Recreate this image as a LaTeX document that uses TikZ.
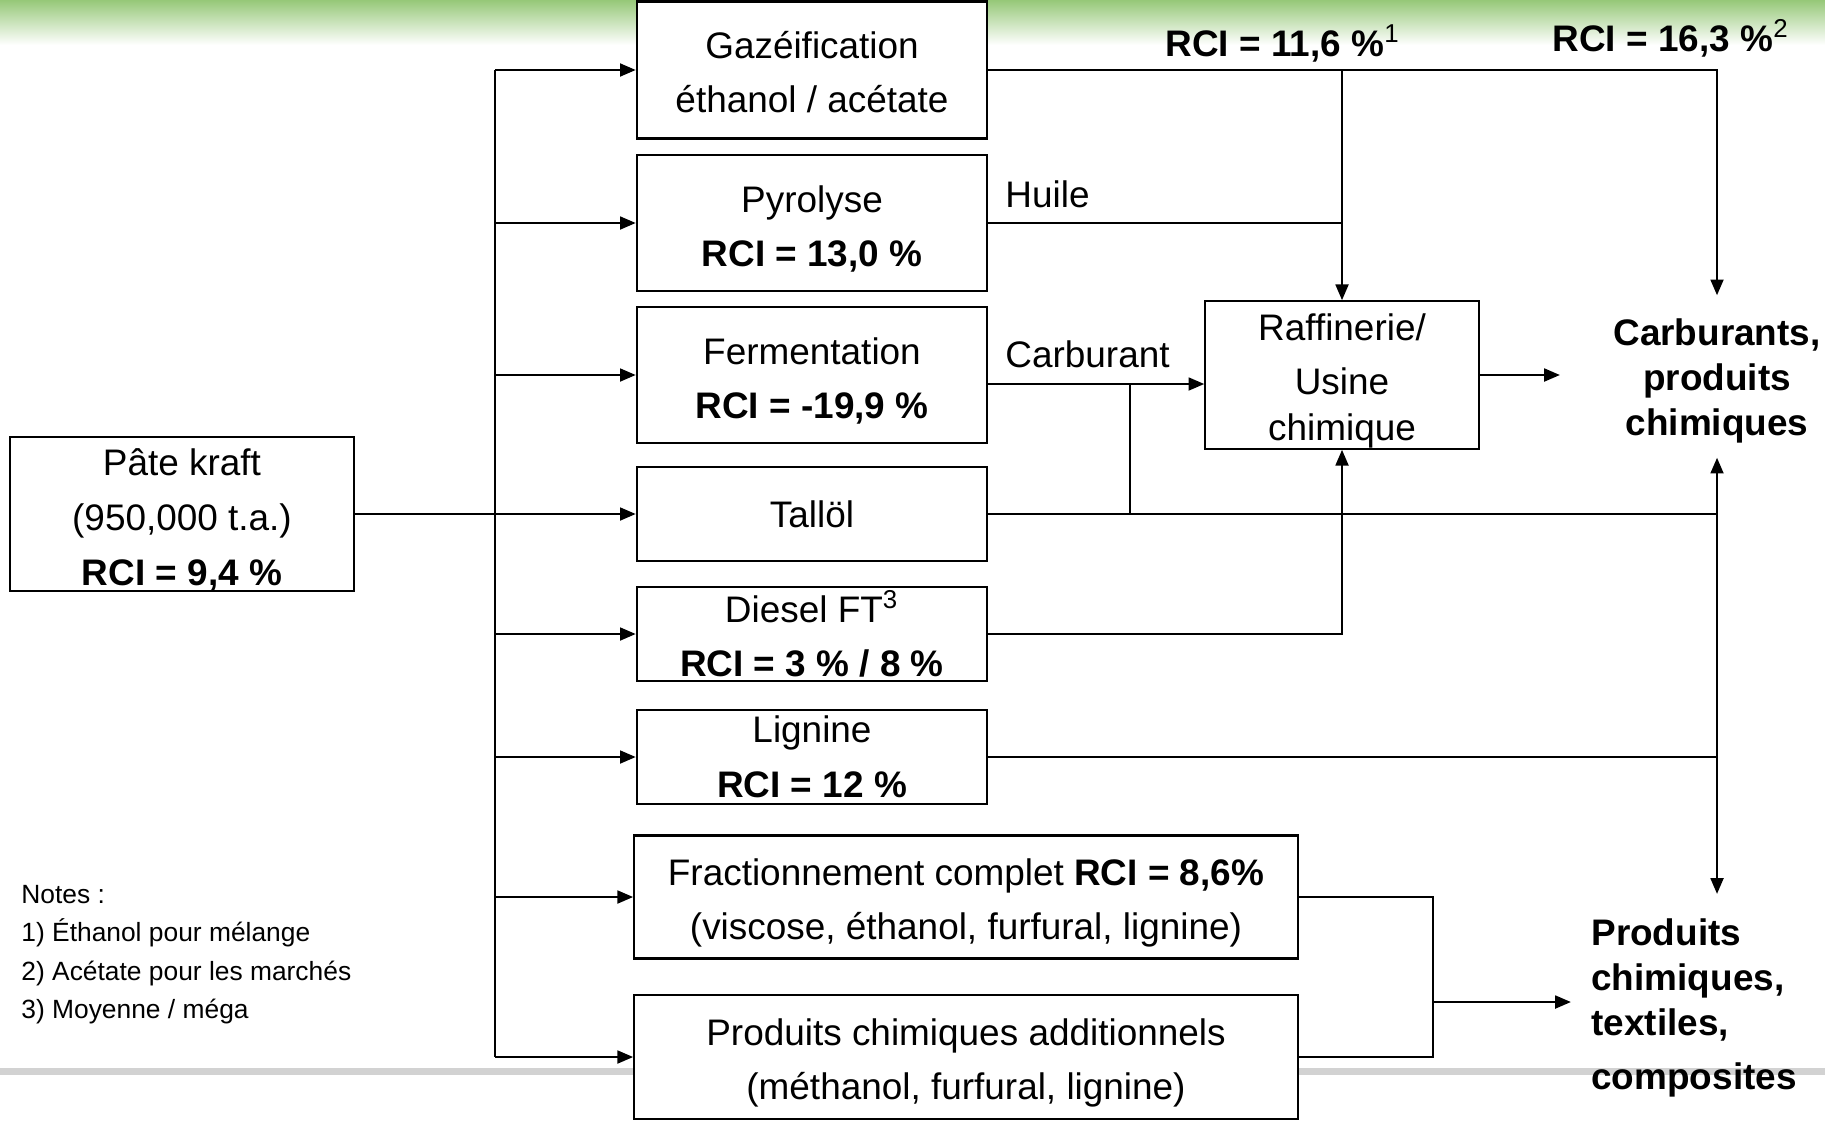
\documentclass[tikz,border=0pt]{standalone}
\usepackage{fontspec}
\setmainfont{Liberation Sans}
\usetikzlibrary{arrows.meta}
\definecolor{bandgreen}{RGB}{150,200,120}

\begin{document}
\begin{tikzpicture}[x=0.01cm,y=-0.01cm,line width=0.8pt]
    \tikzstyle{box}=[draw=black,line width=0.6pt,fill=white,align=center,inner sep=0pt,minimum width=3.5cm,minimum height=0.94cm,font=\fontsize{10.5}{15.5}\selectfont]
    \tikzstyle{arr}=[-{Triangle[length=4.5pt,width=3.6pt]}]
    \tikzstyle{lbl}=[font=\fontsize{10.5}{12.8}\selectfont\bfseries,align=center,inner sep=0pt]
    \tikzstyle{txt}=[font=\fontsize{10.5}{12.8}\selectfont,inner sep=0pt,anchor=west]
    \useasboundingbox (0,0) rectangle (1825,1124);

    % slide background
    \shade[top color=bandgreen,bottom color=white,draw=none] (0,0) rectangle (1825,45);
    \draw[gray!35,line width=2pt] (0,1071) -- (1825,1071);

    % boxes
    \node[box,minimum height=1.37cm] (gaz) at (812,70) {\rule{0pt}{9pt}Gazéification\\éthanol / acétate};
    \node[box,minimum height=1.36cm] (pyro) at (812,223) {\rule{0pt}{11pt}Pyrolyse\\\textbf{RCI = 13,0 \%}};
    \node[box,minimum height=1.36cm] (ferm) at (812,375) {\rule{0pt}{11pt}Fermentation\\\textbf{RCI = -19,9 \%}};
    \node[box] (tall) at (812,514) {Tallöl};
    \node[box] (diesel) at (812,634) {Diesel FT\textsuperscript{3}\\\textbf{RCI = 3 \% / 8 \%}};
    \node[box] (lign) at (812,757) {Lignine\\\textbf{RCI = 12 \%}};
    \node[box,minimum width=6.63cm,minimum height=1.23cm] (frac) at (966,897) {\rule{0pt}{11pt}Fractionnement complet \textbf{RCI = 8,6\%}\\(viscose, éthanol, furfural, lignine)};
    \node[box,minimum width=6.63cm,minimum height=1.24cm] (addi) at (966,1057) {\rule{0pt}{11pt}Produits chimiques additionnels\\(méthanol, furfural, lignine)};
    \node[box,minimum width=3.44cm,minimum height=1.5cm] (pate) at (182,514) {\rule{0pt}{11pt}Pâte kraft\\(950,000 t.a.)\\\textbf{RCI = 9,4 \%}};
    \node[box,minimum width=2.73cm,minimum height=1.43cm] (raff) at (1342,375) {\rule{0pt}{11pt}Raffinerie/\\Usine\\[-2.3pt]chimique};

    % labels
    \node[lbl] (rci1) at (1283,43) {RCI = 11,6 \%\textsuperscript{\mdseries 1}};
    \node[lbl] (rci2) at (1671,38) {RCI = 16,3 \%\textsuperscript{\mdseries 2}};
    \node[lbl] (carbu) at (1717,381) {Carburants,\\produits\\chimiques};
    \node[lbl,align=left,anchor=north west] (prod) at (1590,917) {Produits\\chimiques,\\textiles,\\[2.5pt]composites};
    \node[txt] (huile) at (1004,194) {Huile};
    \node[txt] (carbtxt) at (1004,354) {Carburant};
    \node[anchor=north west,align=left,inner sep=0pt,font=\fontsize{7.5}{10.9}\selectfont] (notes) at (20,884) {Notes :\\1) Éthanol pour mélange\\2) Acétate pour les marchés\\3) Moyenne / méga};

    % left bus
    \coordinate (bus) at (495,0);
    \draw (bus |- gaz.west) -- (bus |- addi.west);
    \draw (pate.east) -- (bus |- pate.east);
    \foreach \to in {gaz,pyro,ferm,tall,diesel,lign,frac,addi}
        \draw[arr] (bus |- \to.west) -- (\to.west);

    % right side
    \coordinate (col1) at (1342,0);
    \coordinate (carb) at (1130,384);
    \coordinate (raffout) at (1560,375);
    \coordinate (join) at (1433,1002);
    \coordinate (prodin) at (1571,1002);
    \draw[arr,shorten >=0.22cm] (gaz.east) -| (carbu.north);
    \draw[arr] (col1 |- gaz.east) -- (raff.north);
    \draw (pyro.east) -- (col1 |- pyro.east);
    \draw[arr] (ferm.east |- carb) -- (raff.west |- carb);
    \draw (carb) |- (col1 |- tall.east);
    \draw (tall.east) -- (carbu.south |- tall.east);
    \draw[arr] (diesel.east) -| (raff.south);
    \draw[arr,shorten >=0.13cm] (lign.east) -| (carbu.south);
    \draw[arr,shorten >=0.23cm] (carbu.south |- lign.east) -- (carbu.south |- prod.north);
    \draw[arr] (raff.east) -- (raffout);
    \draw (frac.east) -| (join) |- (addi.east);
    \draw[arr] (join) -- (prodin);
\end{tikzpicture}
\end{document}
